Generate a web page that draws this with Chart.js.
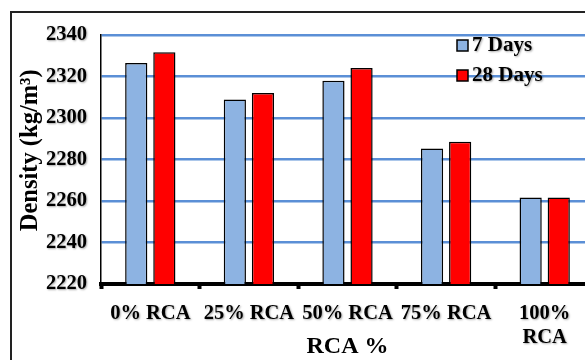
<!DOCTYPE html>
<html>
<head>
<meta charset="utf-8">
<script src="https://cdn.jsdelivr.net/npm/chart.js@4/dist/chart.umd.min.js"></script>
<style>
  html, body { margin: 0; padding: 0; background: #fff; overflow: hidden; }
  #wrap { position: absolute; left: 0; top: 0; width: 610px; height: 360px; }
  #frame { position: absolute; left: 10px; top: 11px; width: 700px; height: 500px;
           border-left: 2px solid #222; border-top: 2px solid #222; pointer-events: none; }
  canvas { position: absolute; left: 0; top: 0; }
</style>
</head>
<body>
<div id="wrap">
  <canvas id="chart" width="610" height="360"></canvas>
  <div id="frame"></div>
</div>
<script>
// Density of concrete mixes by recycled coarse aggregate replacement level
const categories = ['0% RCA', '25% RCA', '50% RCA', '75% RCA', ['100%', 'RCA']];
const days7 = [2326.5, 2308.9, 2318.0, 2285.3, 2261.7];
const days28 = [2331.7, 2312.1, 2324.1, 2288.5, 2261.7];
const yTicks = [2220, 2240, 2260, 2280, 2300, 2320, 2340];

const FONT = '"Liberation Serif", "Times New Roman", serif';
const GRID_BLUE = '#5b8fd6';

function textShadow(ctx, on) {
  if (on) {
    ctx.shadowColor = 'rgba(0,0,0,0.35)';
    ctx.shadowOffsetX = 1;
    ctx.shadowOffsetY = 1;
    ctx.shadowBlur = 2;
  } else {
    ctx.shadowColor = 'rgba(0,0,0,0)';
    ctx.shadowOffsetX = 0;
    ctx.shadowOffsetY = 0;
    ctx.shadowBlur = 0;
  }
}

// Soft shadow behind tick labels (drawn after the bars) and a boxed legend in the top-right corner
const textEffects = {
  id: 'textEffects',
  beforeDraw(chart) { textShadow(chart.ctx, false); },
  afterDatasetsDraw(chart) { textShadow(chart.ctx, true); },
  afterDraw(chart) {
    const ctx = chart.ctx;
    const area = chart.chartArea;
    ctx.save();
    const x0 = area.left + 356;
    const rows = [46, 76];
    chart.data.datasets.forEach((ds, i) => {
      const cy = rows[i];
      textShadow(ctx, false);
      ctx.fillStyle = ds.backgroundColor;
      ctx.fillRect(x0, cy - 6, 11, 11);
      ctx.lineWidth = 1.5;
      ctx.strokeStyle = '#000';
      ctx.strokeRect(x0, cy - 6, 11, 11);
      textShadow(ctx, true);
      ctx.fillStyle = '#000';
      ctx.font = 'bold 21px ' + FONT;
      ctx.textBaseline = 'middle';
      ctx.textAlign = 'left';
      ctx.fillText(ds.label, x0 + 15, cy);
    });
    ctx.restore();
    textShadow(ctx, false);
  }
};

new Chart(document.getElementById('chart'), {
  type: 'bar',
  data: {
    labels: categories,
    datasets: [
      { label: '7 Days', data: days7, backgroundColor: '#8db3e2', borderColor: '#000', borderWidth: 1.5,
        categoryPercentage: 0.57, barPercentage: 0.79 },
      { label: '28 Days', data: days28, backgroundColor: '#ff0000', borderColor: '#000', borderWidth: 1.5,
        categoryPercentage: 0.57, barPercentage: 0.79 }
    ]
  },
  options: {
    responsive: false,
    animation: false,
    layout: { padding: { left: 0, top: 35, right: 16, bottom: 0 } },
    plugins: { legend: { display: false }, tooltip: { enabled: false } },
    scales: {
      x: {
        afterFit(scale) { scale.height = 76; },
        grid: { display: true, drawOnChartArea: false, drawTicks: true, offset: true,
                tickLength: 5, tickWidth: 4, tickColor: '#000' },
        border: { display: true, color: '#000', width: 4 },
        ticks: { z: 1, color: '#000', padding: 12, maxRotation: 0, minRotation: 0, autoSkip: false,
                 font: { family: FONT, size: 20.5, weight: 'bold', lineHeight: 1.2 } },
        title: { display: true, text: 'RCA %', color: '#000',
                 font: { family: FONT, size: 24, weight: 'bold', lineHeight: 1 },
                 padding: { top: 0, bottom: 1 } }
      },
      y: {
        min: yTicks[0],
        max: yTicks[yTicks.length - 1],
        afterFit(scale) { scale.width = 101; },
        afterBuildTicks(scale) { scale.ticks = yTicks.map(v => ({ value: v })); },
        grid: { drawTicks: false, lineWidth: 2.5,
                color: c => (c.tick && c.tick.value === yTicks[0]) ? 'rgba(0,0,0,0)' : GRID_BLUE },
        border: { display: true, color: '#000', width: 1.5 },
        ticks: { z: 1, color: '#000', padding: 14,
                 callback: v => String(v),
                 font: { family: FONT, size: 20.5, weight: 'bold' } },
        title: { display: true, text: '   Density (kg/m³)', color: '#000',
                 font: { family: FONT, size: 24.5, weight: 'bold', lineHeight: 1 },
                 padding: { top: 18, bottom: 0 } }
      }
    }
  },
  plugins: [textEffects]
});
</script>
</body>
</html>
